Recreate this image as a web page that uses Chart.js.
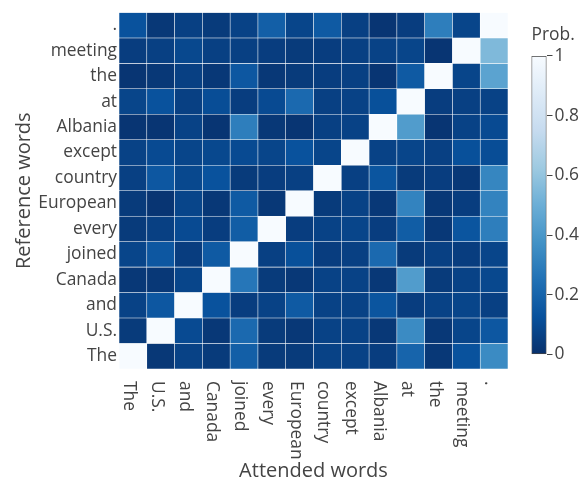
<!DOCTYPE html>
<html>
<head>
<meta charset="utf-8">
<script src="https://cdn.jsdelivr.net/npm/chart.js@4.4.0/dist/chart.umd.min.js"></script>
<style>
  html, body { margin: 0; padding: 0; background: #fff; }
  #wrap { position: relative; width: 588px; height: 483px; }
  #heat { position: absolute; left: 0; top: 0; width: 588px; height: 483px; }
  #cbar { position: absolute; left: 500px; top: 0; width: 88px; height: 483px; }
</style>
</head>
<body>
<div id="wrap">
  <div id="heat"><canvas id="heatCanvas"></canvas></div>
  <div id="cbar"><canvas id="cbarCanvas"></canvas></div>
</div>
<script>
// words on both axes, bottom -> top on y, left -> right on x
const words = ['The', 'U.S.', 'and', 'Canada', 'joined', 'every', 'European',
  'country', 'except', 'Albania', 'at', 'the', 'meeting', '.'];

// attention probabilities, one array per reference word (row), bottom row first
const rowThe      = [1.00, 0.03, 0.07, 0.04, 0.18, 0.04, 0.04, 0.07, 0.07, 0.05, 0.20, 0.03, 0.13, 0.35];
const rowUS       = [0.04, 1.00, 0.10, 0.03, 0.22, 0.04, 0.03, 0.07, 0.07, 0.03, 0.35, 0.03, 0.08, 0.15];
const rowAnd      = [0.07, 0.15, 1.00, 0.13, 0.05, 0.07, 0.16, 0.07, 0.07, 0.14, 0.05, 0.07, 0.08, 0.06];
const rowCanada   = [0.03, 0.03, 0.08, 1.00, 0.27, 0.04, 0.03, 0.07, 0.07, 0.03, 0.42, 0.04, 0.07, 0.09];
const rowJoined   = [0.08, 0.15, 0.05, 0.16, 1.00, 0.06, 0.12, 0.05, 0.06, 0.22, 0.04, 0.06, 0.05, 0.08];
const rowEvery    = [0.04, 0.06, 0.10, 0.05, 0.17, 1.00, 0.05, 0.07, 0.08, 0.05, 0.17, 0.03, 0.14, 0.30];
const rowEuropean = [0.04, 0.02, 0.08, 0.03, 0.16, 0.03, 1.00, 0.04, 0.07, 0.03, 0.32, 0.03, 0.05, 0.32];
const rowCountry  = [0.06, 0.15, 0.09, 0.13, 0.04, 0.05, 0.06, 1.00, 0.06, 0.14, 0.04, 0.05, 0.03, 0.33];
const rowExcept   = [0.07, 0.10, 0.08, 0.09, 0.10, 0.08, 0.13, 0.08, 1.00, 0.07, 0.08, 0.06, 0.12, 0.11];
const rowAlbania  = [0.02, 0.02, 0.07, 0.02, 0.30, 0.03, 0.02, 0.06, 0.07, 1.00, 0.42, 0.02, 0.07, 0.10];
const rowAt       = [0.08, 0.13, 0.06, 0.11, 0.05, 0.10, 0.22, 0.06, 0.07, 0.12, 1.00, 0.05, 0.06, 0.07];
const rowThe2     = [0.02, 0.03, 0.06, 0.03, 0.15, 0.03, 0.04, 0.05, 0.06, 0.02, 0.16, 1.00, 0.08, 0.45];
const rowMeeting  = [0.05, 0.06, 0.09, 0.06, 0.06, 0.05, 0.04, 0.05, 0.06, 0.07, 0.08, 0.02, 1.00, 0.55];
const rowDot      = [0.13, 0.03, 0.06, 0.04, 0.07, 0.18, 0.08, 0.16, 0.06, 0.02, 0.05, 0.30, 0.08, 1.00];

const probs = [rowThe, rowUS, rowAnd, rowCanada, rowJoined, rowEvery, rowEuropean,
  rowCountry, rowExcept, rowAlbania, rowAt, rowThe2, rowMeeting, rowDot];

const cbarTicks = [0, 0.2, 0.4, 0.6, 0.8, 1];

// reversed Blues colour scale, 0 -> dark, 1 -> white
const blues = [[8,48,107], [8,81,156], [33,113,181], [66,146,198], [107,174,214],
  [158,202,225], [198,219,239], [222,235,247], [247,251,255]];

function blue(v) {
  const t = Math.max(0, Math.min(1, v)) * (blues.length - 1);
  const i = Math.min(Math.floor(t), blues.length - 2);
  const f = t - i;
  const a = blues[i], b = blues[i + 1];
  return 'rgb(' + a.map((c, k) => Math.round(c + (b[k] - c) * f)).join(',') + ')';
}

const textColor = '#444';
const font = { family: 'Open Sans', size: 17.4 };
const titleFont = { family: 'Open Sans', size: 20 };

// x tick labels read top to bottom, Chart.js only rotates the other way
const xLabels = {
  id: 'xLabels',
  afterDraw(chart) {
    const { ctx, chartArea, scales: { x } } = chart;
    ctx.save();
    ctx.font = font.size + 'px "' + font.family + '"';
    ctx.fillStyle = textColor;
    ctx.textAlign = 'left';
    ctx.textBaseline = 'middle';
    words.forEach((w, i) => {
      ctx.save();
      ctx.translate(x.getPixelForValue(i) - 4, chartArea.bottom + 12);
      ctx.rotate(Math.PI / 2);
      ctx.fillText(w, 0, 0);
      ctx.restore();
    });
    ctx.restore();
  }
};

new Chart(document.getElementById('heatCanvas'), {
  type: 'bar',
  data: {
    labels: words,
    datasets: probs.map((row, r) => ({
      label: words[r],
      data: row.map(() => 1),
      backgroundColor: row.map(blue),
      borderColor: 'rgba(255,255,255,0.28)',
      borderWidth: 0.6,
      borderSkipped: false,
      barPercentage: 1,
      categoryPercentage: 1
    }))
  },
  options: {
    responsive: true,
    maintainAspectRatio: false,
    animation: false,
    layout: { padding: { top: 9, right: 80, left: 0, bottom: 0 } },
    plugins: { legend: { display: false }, tooltip: { enabled: false } },
    scales: {
      x: {
        stacked: true,
        afterFit: s => { s.height = 114; },
        ticks: { display: false },
        grid: { display: false, drawTicks: false },
        border: { display: false },
        title: { display: true, text: 'Attended words', color: textColor, font: titleFont, padding: { top: 0, bottom: 0 } }
      },
      y: {
        stacked: true,
        min: 0,
        max: words.length,
        afterBuildTicks: s => { s.ticks = words.map((w, i) => ({ value: i + 0.5 })); },
        afterFit: s => { s.width = 119; },
        ticks: { autoSkip: false, padding: 2, color: textColor, font: font, callback: (v, i) => words[i] },
        grid: { display: false, drawTicks: false },
        border: { display: false },
        title: { display: true, text: 'Reference words', color: textColor, font: titleFont, padding: { top: 12, bottom: 0 } }
      }
    }
  },
  plugins: [xLabels]
});

// colour bar: one bar from 0 to 1 filled with the scale
new Chart(document.getElementById('cbarCanvas'), {
  type: 'bar',
  data: {
    labels: ['Prob.'],
    datasets: [{
      data: [1],
      backgroundColor: c => {
        const chart = c.chart;
        if (!chart.chartArea) return blue(0);
        const y = chart.scales.y;
        const g = chart.ctx.createLinearGradient(0, y.getPixelForValue(0), 0, y.getPixelForValue(1));
        blues.forEach((col, i) => g.addColorStop(i / (blues.length - 1), 'rgb(' + col.join(',') + ')'));
        return g;
      },
      borderColor: textColor,
      borderWidth: 1,
      borderSkipped: false,
      barPercentage: 1,
      categoryPercentage: 1
    }]
  },
  options: {
    responsive: true,
    maintainAspectRatio: false,
    animation: false,
    layout: { padding: { left: 31.5, right: 0, top: 0, bottom: 128.5 } },
    plugins: {
      legend: { display: false },
      tooltip: { enabled: false },
      title: {
        display: true, text: 'Prob.', align: 'start', color: textColor,
        font: { family: 'Open Sans', size: 17.4, weight: 'normal' },
        padding: { top: 24.5, bottom: 10.6 }
      }
    },
    scales: {
      x: { display: false },
      y: {
        position: 'right',
        min: 0,
        max: 1,
        afterBuildTicks: s => { s.ticks = cbarTicks.map(v => ({ value: v })); },
        afterFit: s => { s.width = 41.5; },
        ticks: { padding: 2, color: textColor, font: font, callback: v => String(v) },
        grid: { drawOnChartArea: false, tickLength: 6, color: textColor },
        border: { display: false }
      }
    }
  }
});
</script>
</body>
</html>
